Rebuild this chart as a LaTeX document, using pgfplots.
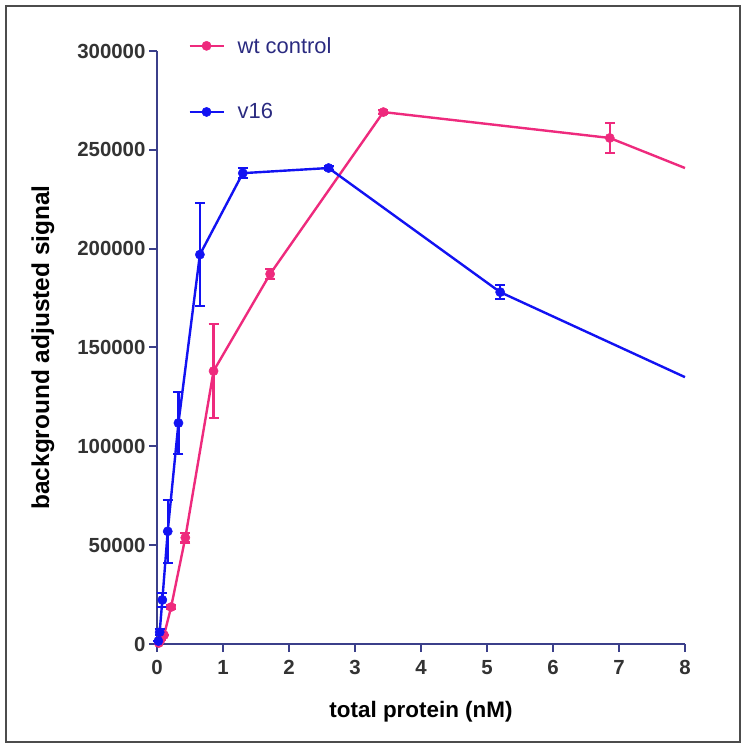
\documentclass[border=0pt]{standalone}
\usepackage{pgfplots}
\pgfplotsset{compat=1.18}
\usepackage{fontspec}
\setmainfont{Liberation Sans}
\definecolor{wtpink}{HTML}{EE2A7D}
\definecolor{vblue}{HTML}{1212F2}
\definecolor{axnavy}{HTML}{3B3F8A}
\definecolor{ticktxt}{HTML}{333333}
\definecolor{legtxt}{HTML}{2A2A80}
\pgfplotstableread{
x y e
0.0268 500 0
0.0536 2000 0
0.107 4500 0
0.214 18700 1000
0.429 53800 2500
0.857 138100 23800
1.714 187200 2500
3.43 269100 1000
6.86 256000 7500
}\wttable
\pgfplotstableread{
x y e
0.0203 1500 0
0.0406 6000 1500
0.081 22300 3500
0.1625 57000 16000
0.325 111800 15500
0.65 197000 26000
1.3 238200 2500
2.6 240800 1000
5.2 178000 3500
}\vtable
\begin{document}
\begin{tikzpicture}
\path[use as bounding box] (0bp,0bp) rectangle (745bp,747bp);
\draw[line width=1.2bp, black!70] (6bp,5bp) rectangle (740bp,741bp);
\begin{axis}[
  at={(157bp,103bp)}, anchor=south west,
  scale only axis, width=528bp, height=593bp,
  xmin=0, xmax=8, ymin=0, ymax=300000,
  clip=false,
  axis lines=left,
  axis line style={-, axnavy, line width=2.2bp},
  xtick={0,1,...,8},
  ytick={0,50000,100000,150000,200000,250000,300000},
  scaled y ticks=false,
  yticklabel style={/pgf/number format/fixed, /pgf/number format/1000 sep={}},
  xticklabel style={yshift=-5bp},
  /pgf/number format/assume math mode=true,
  tick align=outside,
  major tick length=8bp,
  tick style={axnavy, line width=2bp},
  ticklabel style={font=\fontsize{20.5}{20.5}\selectfont\bfseries, text=ticktxt},
  xlabel={total protein (nM)},
  ylabel={background adjusted signal},
  xlabel style={font=\fontsize{22.5}{22.5}\selectfont\bfseries, text=black, at={(axis description cs:0.5,-0.115)}, anchor=center},
  ylabel style={font=\fontsize{24.5}{24.5}\selectfont\bfseries, text=black, at={(axis description cs:-0.216,0.5)}, anchor=center},
  legend style={at={(axis description cs:0.059,1.027)}, anchor=north west,
    draw=none, fill=none, font=\fontsize{22}{22}\selectfont, text=legtxt,
    row sep=45bp, inner sep=0pt,
    /tikz/every odd column/.append style={column sep=11bp}},
  legend cell align=left,
  legend image code/.code={\draw[#1, mark repeat=2, mark phase=2] plot coordinates {(0bp,0bp) (17bp,0bp) (34bp,0bp)};},
]
\addplot[wtpink, line width=2.4bp, mark=*, mark size=4.6bp, mark options={solid, fill=wtpink, draw=wtpink, line width=0.5bp},
  error bars/.cd, y dir=both, y explicit,
  error bar style={line width=2.2bp, wtpink},
  error mark options={rotate=90, mark size=5bp, line width=2.2bp, wtpink}]
  table[x=x, y=y, y error=e] {\wttable};
\addlegendentry{wt control}
\addplot[vblue, line width=2.4bp, mark=*, mark size=4.6bp, mark options={solid, fill=vblue, draw=vblue, line width=0.5bp},
  error bars/.cd, y dir=both, y explicit,
  error bar style={line width=2.2bp, vblue},
  error mark options={rotate=90, mark size=5bp, line width=2.2bp, vblue}]
  table[x=x, y=y, y error=e] {\vtable};
\addlegendentry{v16}
\addplot[wtpink, line width=2.4bp, forget plot] coordinates {(6.86,256000) (8,240800)};
\addplot[vblue, line width=2.4bp, forget plot] coordinates {(5.2,178000) (8,135000)};
\end{axis}
\end{tikzpicture}
\end{document}
